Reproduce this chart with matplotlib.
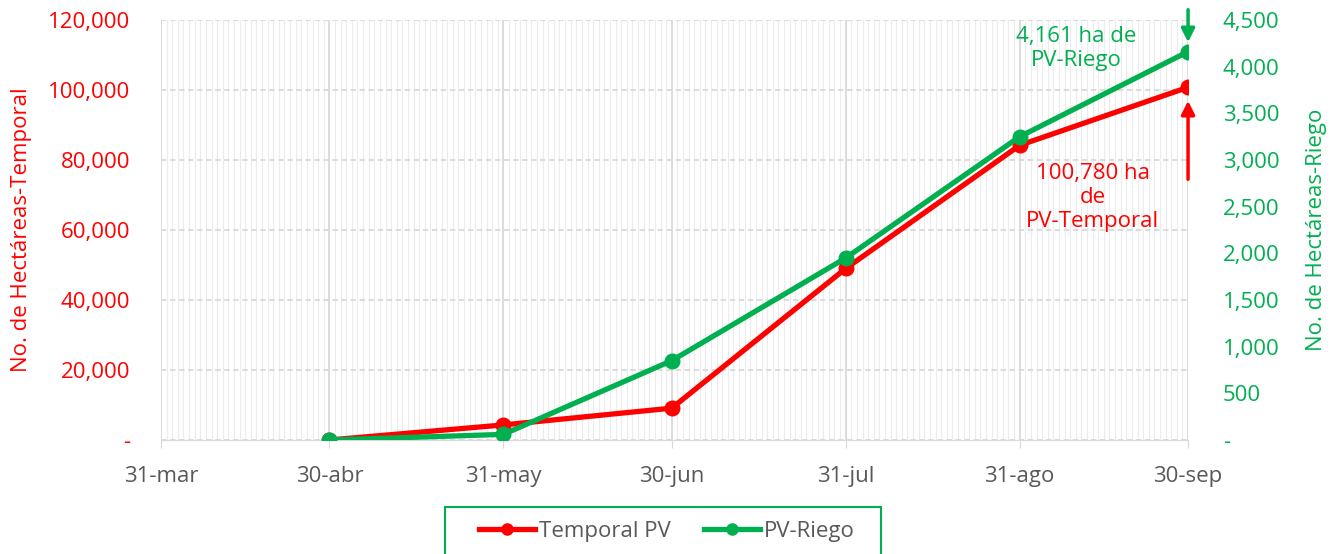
import numpy as np
import matplotlib
matplotlib.use("Agg")
import matplotlib.pyplot as plt
import matplotlib.dates as mdates
from matplotlib.patches import Rectangle
from datetime import date

plt.rcParams['font.family'] = ['Open Sans', 'DejaVu Sans']

# fechas de corte y etiquetas
fechas = [date(2021, 4, 30), date(2021, 5, 31), date(2021, 6, 30),
          date(2021, 7, 31), date(2021, 8, 31), date(2021, 9, 30)]
tick_fechas = [date(2021, 3, 31)] + fechas
tick_labels = ["31-mar", "30-abr", "31-may", "30-jun", "31-jul", "31-ago", "30-sep"]

# hectareas acumuladas
temporal = [0, 4300, 9100, 49000, 84200, 100780]
riego = [0, 60, 850, 1950, 3250, 4161]

ROJO = "#ff0000"
VERDE = "#00b050"
GRIS = "#595959"
FS = 16

fig = plt.figure(figsize=(13.34, 5.54), dpi=100)
ax = fig.add_axes([0.1207, 0.2058, 0.8906 - 0.1207, 0.9639 - 0.2058])
ax2 = ax.twinx()

# grilla diaria y mensual
ax.set_xlim(tick_fechas[0], tick_fechas[-1])
ax.xaxis.set_minor_locator(mdates.DayLocator(interval=1))
ax.set_xticks(tick_fechas)
ax.set_xticklabels(tick_labels, color=GRIS, fontsize=FS)
ax.grid(which="minor", axis="x", color="#ececec", linewidth=0.8)
ax.grid(which="major", axis="x", color="#d9d9d9", linewidth=1.3)
ax.grid(which="major", axis="y", color="#d9d9d9", linewidth=1.3, linestyle=(0, (3, 2)))
ax.tick_params(axis="x", which="major", length=6, color="#d9d9d9", pad=13)
ax.tick_params(axis="x", which="minor", length=0)
ax.set_axisbelow(True)

ax.set_ylim(0, 120000)
ax.set_yticks(np.arange(0, 120001, 20000))
ax.set_yticklabels(["-"] + [f"{v:,}" for v in range(20000, 120001, 20000)],
                   color=ROJO, fontsize=FS)
ax.tick_params(axis="y", length=0, pad=22)
ax.set_ylabel("No. de Hectáreas-Temporal", color=ROJO, fontsize=FS, labelpad=12)

ax2.set_ylim(0, 4500)
ax2.set_yticks(np.arange(0, 4501, 500))
ax2.set_yticklabels(["-"] + [f"{v:,}" for v in range(500, 4501, 500)],
                    color=VERDE, fontsize=FS)
ax2.tick_params(axis="y", length=0, pad=25)
ax2.set_ylabel("No. de Hectáreas-Riego", color=VERDE, fontsize=FS, labelpad=19)

for a in (ax, ax2):
    for s in ["top", "left", "right"]:
        a.spines[s].set_visible(False)
    a.spines["bottom"].set_color("#d9d9d9")

l1, = ax.plot(fechas, temporal, color=ROJO, linewidth=3.8, marker="o",
              markersize=10.5, label="Temporal PV", zorder=3)
l2, = ax2.plot(fechas, riego, color=VERDE, linewidth=3.8, marker="o",
               markersize=10.5, label="PV-Riego", zorder=3)

# anotaciones
ax.annotate("", xy=(fechas[-1], 97700), xytext=(fechas[-1], 73700),
            arrowprops=dict(arrowstyle="-|>", color=ROJO, lw=2.5, mutation_scale=20),
            annotation_clip=False)
ax.text(date(2021, 9, 13), 79000, "100,780 ha\nde\nPV-Temporal", color=ROJO,
        fontsize=FS, ha="center", va="top", linespacing=1.17)
ax2.annotate("", xy=(fechas[-1], 4232), xytext=(fechas[-1], 4640),
             arrowprops=dict(arrowstyle="-|>", color=VERDE, lw=2.5, mutation_scale=20),
             annotation_clip=False)
ax2.text(date(2021, 9, 10), 4195, "4,161 ha de\nPV-Riego", color=VERDE,
         fontsize=FS, ha="center", va="center", linespacing=1.17)

# leyenda con marco aparte
fig.patches.append(Rectangle((445 / 1334, 1 - 557 / 554), 436 / 1334, 50 / 554,
                             transform=fig.transFigure, fill=False,
                             edgecolor=VERDE, linewidth=1.5))
leg = fig.legend(handles=[l1, l2], loc="center", ncol=2,
                 bbox_to_anchor=(0.5, 1 - 531 / 554), fontsize=FS,
                 frameon=False, handlelength=2.5, columnspacing=1.5,
                 handletextpad=0.2, borderaxespad=0)
for t in leg.get_texts():
    t.set_color(GRIS)
for h in leg.legend_handles:
    h.set_markersize(8)

fig.savefig("out.png", dpi=100)
